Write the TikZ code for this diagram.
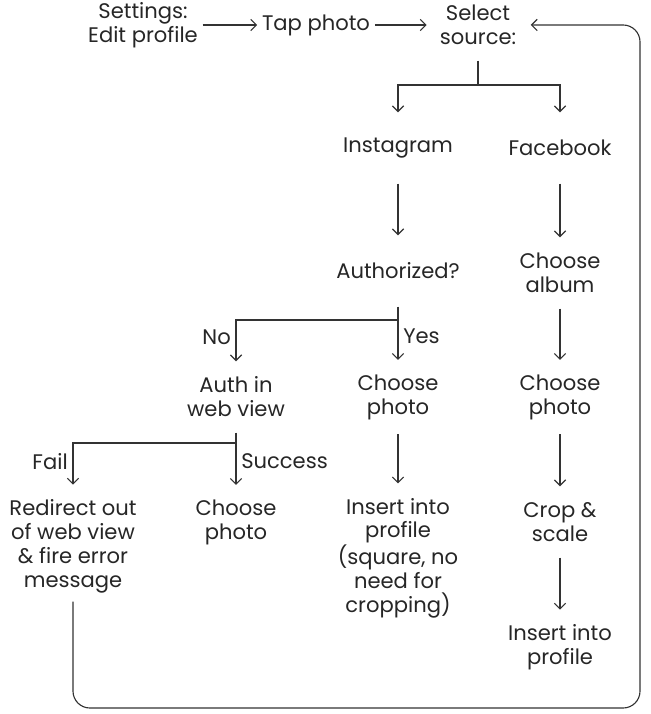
\documentclass[tikz,border=0pt]{standalone}
\usepackage{fontspec}
\setmainfont{Poppins}
\usetikzlibrary{arrows.meta}
\usetikzlibrary{positioning}
\tikzstyle{stepnode} = [align=center, inner sep=3pt, minimum height=36pt]
\tikzstyle{flow} = [draw, ->, shorten >=7pt, shorten <=7pt]
\tikzstyle{branchpt} = [coordinate]
\begin{document}
\begin{tikzpicture}[>={Straight Barb[length=4pt,width=8pt]}, line width=0.8pt,
    every node/.style={font=\fontsize{15}{17}\selectfont, text=black!85}, draw=black!80]
    \useasboundingbox (0,0) rectangle (16.25,-17.85);
    % top row
    \node [stepnode] (settings) at (3.575,-0.625) {Settings:\\Edit profile};
    \node [stepnode, right of=settings, node distance=4.325cm] (tapphoto) {Tap photo};
    \node [stepnode, right of=tapphoto, node distance=4.05cm] (source) {Select\\source:};
    \node [branchpt, below of=source, node distance=1.5cm] (srcsplit) {};

    % Instagram column
    \node [stepnode] (instagram) at (9.95,-3.7) {Instagram};
    \node [stepnode, below of=instagram, node distance=3.075cm] (authorized) {Authorized?};
    \node [branchpt, below of=authorized, node distance=1.225cm] (authsplit) {};
    \node [stepnode, below of=authorized, node distance=3.15cm] (igphoto) {Choose\\photo};
    \node [stepnode, left of=igphoto, node distance=4.05cm] (webauth) {Auth in\\web view};
    \node [branchpt, below of=webauth, node distance=1.15cm] (websplit) {};
    \node [stepnode, below of=webauth, node distance=3.125cm] (webphoto) {Choose\\photo};
    \node [stepnode, left of=webphoto, node distance=4.075cm, yshift=-0.6cm] (redirect)
        {Redirect out\\of web view\\\& fire error\\message};
    \node [stepnode, below of=igphoto, node distance=4.025cm] (iginsert)
        {Insert into\\profile\\(square, no\\need for\\cropping)};

    % Facebook column
    \node [stepnode, right of=instagram, node distance=4.05cm] (facebook) {Facebook};
    \node [stepnode, below of=facebook, node distance=3.125cm] (album) {Choose\\album};
    \node [stepnode, below of=album, node distance=3.1cm] (fbphoto) {Choose\\photo};
    \node [stepnode, below of=fbphoto, node distance=3.125cm] (crop) {Crop \&\\scale};
    \node [stepnode, below of=crop, node distance=3.125cm] (fbinsert) {Insert into\\profile};
    \node [branchpt] (loopcorner) at (16.0,-17.7) {};

    % connectors
    \draw [->] (settings) -- (tapphoto);
    \draw [->, shorten >=6pt] (tapphoto) -- (source);
    \draw [shorten <=7pt] (source) -- (srcsplit);
    \draw [flow, shorten <=0pt] (srcsplit) -| (instagram);
    \draw [flow, shorten <=0pt] (srcsplit) -| (facebook);
    \draw [flow] (instagram) -- (authorized);
    \draw [shorten <=7pt] (authorized) -- (authsplit);
    \draw [flow, shorten <=0pt] (authsplit) -| node[pos=0.67, left] {No} (webauth);
    \draw [flow, shorten <=0pt] (authsplit) -- node[pos=0.33, right] {Yes} (igphoto);
    \draw [shorten <=7pt] (webauth) -- (websplit);
    \draw [flow, shorten <=0pt] (websplit) -| node[pos=0.68, left] {Fail} (redirect);
    \draw [flow, shorten <=0pt] (websplit) -- node[pos=0.36, right] {Success} (webphoto);
    \draw [flow] (igphoto) -- (iginsert);
    \draw [flow] (facebook) -- (album);
    \draw [flow] (album) -- (fbphoto);
    \draw [flow] (fbphoto) -- (crop);
    \draw [flow] (crop) -- (fbinsert);
    \draw [flow, shorten <=3pt, rounded corners=12pt] (redirect.south) |- (loopcorner) |- (source.east);
\end{tikzpicture}
\end{document}
